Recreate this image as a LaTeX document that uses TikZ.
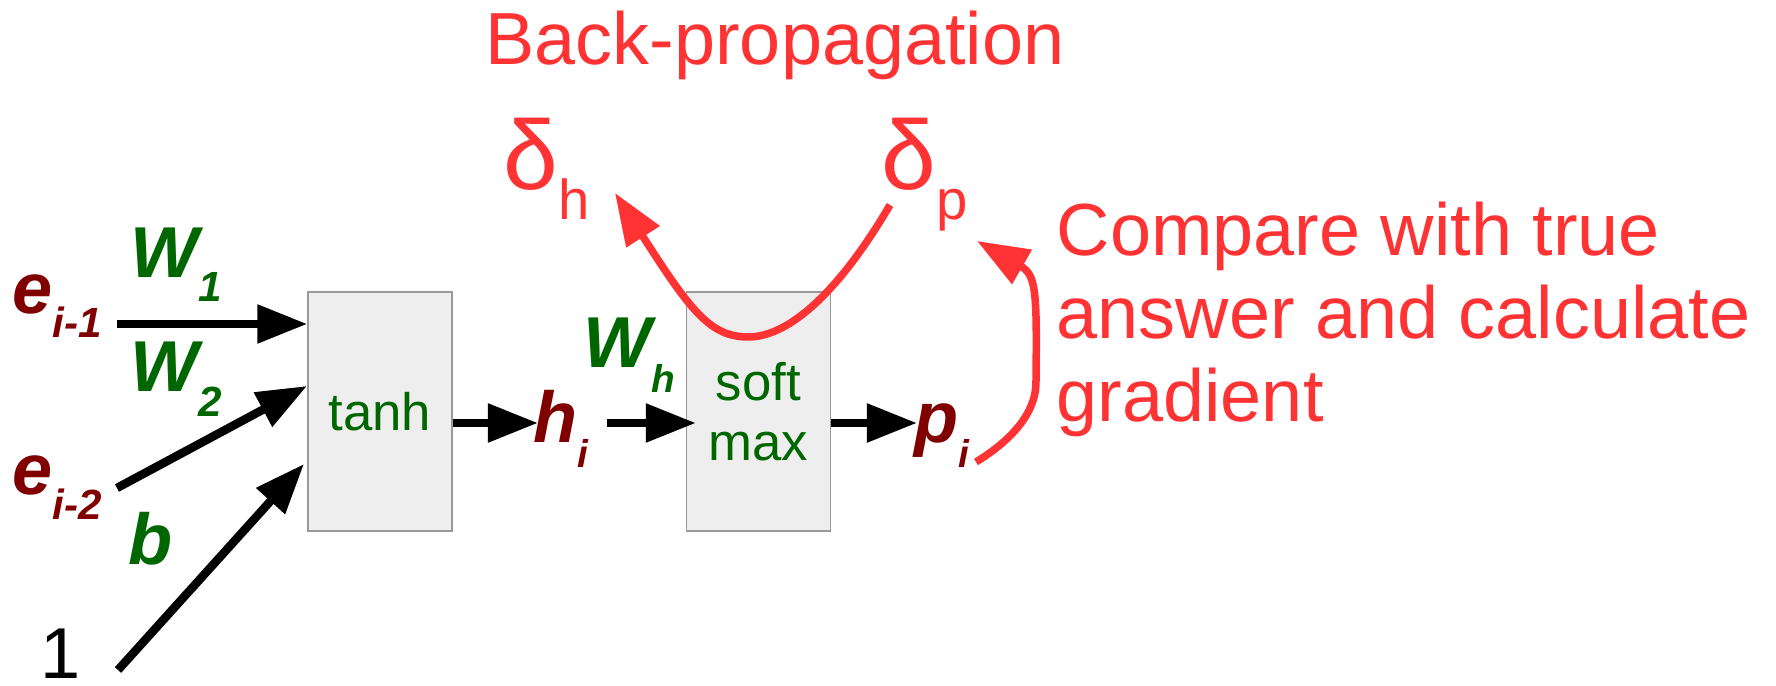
\documentclass[tikz,border=0pt]{standalone}
\usepackage{fontspec}
\setmainfont{Liberation Sans}
\usetikzlibrary{arrows.meta}
\definecolor{bpred}{RGB}{255,51,51}
\definecolor{dred}{RGB}{128,0,0}
\definecolor{dgreen}{RGB}{0,102,0}
\definecolor{boxfill}{RGB}{238,238,238}
\definecolor{boxline}{RGB}{153,153,153}
\newcommand{\subl}[2]{\raisebox{#1}{\fontsize{12pt}{14pt}\selectfont #2}}
\newcommand{\subs}[2]{\raisebox{#1}{\fontsize{11pt}{13pt}\selectfont #2}}
\begin{document}
\begin{tikzpicture}[x=0.01cm,y=-0.01cm,
  lbl/.style={inner sep=0pt, anchor=base west},
  var/.style={lbl, text=dred, font={\bfseries\itshape\fontsize{20.5pt}{24pt}\selectfont}},
  wgt/.style={lbl, text=dgreen, font={\bfseries\itshape\fontsize{20.5pt}{24pt}\selectfont}},
  redtxt/.style={lbl, text=bpred, font={\fontsize{21pt}{25pt}\selectfont}},
  fbox/.style={draw=boxline, fill=boxfill, line width=0.012cm, minimum width=1.44cm,
    minimum height=2.39cm, inner sep=0pt, text=dgreen,
    font={\fontsize{15pt}{17pt}\selectfont}, align=center},
  fwd/.style={line width=0.085cm, -{Triangle[length=0.5cm,width=0.37cm]}},
  back/.style={draw=bpred, line width=0.075cm, -{Triangle[length=0.52cm,width=0.38cm]}}
]
\useasboundingbox (0,0) rectangle (1776,686);

% boxes
\node[fbox] (tanh) at (380,411.5) {tanh};
\node[fbox] (smax) at (758.5,411.5) {soft\\max};

% inputs
\node[var] (e1) at (12,314) {e\subl{-6.8pt}{i-1}};
\node[var] (e2) at (12,495) {e\subl{-7pt}{i-2}};
\node[wgt] (w1) at (130,278) {W\subl{-6.8pt}{1}};
\node[wgt] (w2) at (130,392) {W\subl{-7pt}{2}};
\node[wgt] (bb) at (128,565) {b};
\node[lbl, font={\fontsize{20.5pt}{24pt}\selectfont}] (one) at (40,679) {1};

\node[var] (hi) at (533,443) {h\subs{-7pt}{i}};
\node[wgt] (wh) at (583,368) {W\subs{-7pt}{h}};
\node[var] (pi) at (914,443) {p\subs{-7pt}{i}};

% red texts
\node[redtxt, anchor=base] (title) at (775,65) {Back-propagation};
\node[lbl, text=bpred] (dh) at (503,190) {{\fontsize{28pt}{30pt}\selectfont δ}\raisebox{-8.5pt}{\fontsize{16pt}{18pt}\selectfont h}};
\node[lbl, text=bpred] (dp) at (881,190) {{\fontsize{28pt}{30pt}\selectfont δ}\raisebox{-8.5pt}{\fontsize{16pt}{18pt}\selectfont p}};
\node[redtxt] (cmp1) at (1056,256) {Compare with true};
\node[redtxt] (cmp2) at (1056,339) {answer and calculate};
\node[redtxt] (cmp3) at (1056,422) {gradient};

% connector end points
\coordinate (s1) at (117,324);
\coordinate (s2) at (117,488);
\coordinate (t2) at (307,386);
\coordinate (s3) at (118,670);
\coordinate (t3) at (304,464);
\coordinate (t4) at (538,423);
\coordinate (s5) at (607,423);
\coordinate (t6) at (917,423);
\coordinate (bp0) at (890,205);
\coordinate (bp1) at (615,193);
\coordinate (c0) at (976,462);
\coordinate (c1) at (977,241);

% forward arrows
\draw[fwd] (s1) -- (tanh.west |- s1);
\draw[fwd] (s2) -- (t2);
\draw[fwd] (s3) -- (t3);
\draw[fwd] (tanh.east |- t4) -- (t4);
\draw[fwd] (s5) -- ([xshift=0.1cm]smax.west |- s5);
\draw[fwd] (smax.east |- t6) -- (t6);

% back-propagation arrows
\draw[back] (bp0) .. controls (840,290) and (790,337) .. (748,337)
  .. controls (710,337) and (690,310) .. (bp1);
\draw[back] (c0) .. controls (1015,438) and (1037,410) .. (1036,380)
  .. controls (1037,290) and (1036,275) .. (c1);
\end{tikzpicture}
\end{document}
